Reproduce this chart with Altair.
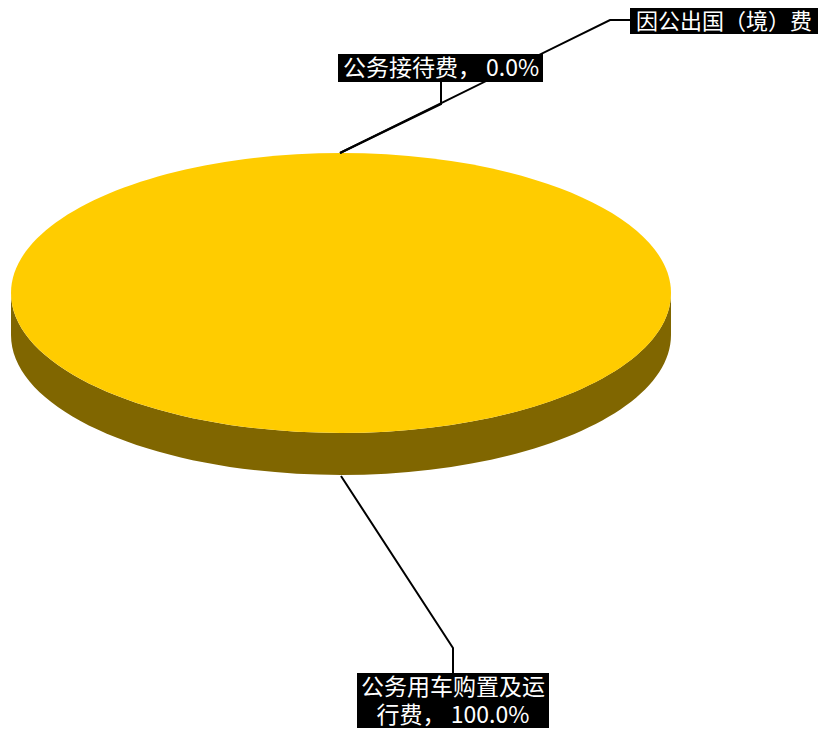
import altair as alt
import pandas as pd

# values
categories = ["因公出国（境）费", "公务接待费", "公务用车购置及运行费"]
shares = [None, 0.0, 100.0]
top_colour = "#FFCC00"
side_colour = "#806600"

label_lines = [
    categories[0],
    f"{categories[1]}， {shares[1]:.1f}%",
    categories[2][:8],
    f"{categories[2][8:]}， {shares[2]:.1f}%",
]

# layout, in reference-picture units
X_DOM = [8, 818]
Y_DOM = [8, 730]
W = X_DOM[1] - X_DOM[0]
H = Y_DOM[1] - Y_DOM[0]
xs = alt.Scale(domain=X_DOM, range=[0, W])
ys = alt.Scale(domain=Y_DOM, range=[0, H])
CX, CY, RX, RY, DEPTH = 341, 293, 330, 140, 42

leaders = pd.DataFrame([
    {"g": "a", "o": 0, "x": 340, "y": 153},
    {"g": "a", "o": 1, "x": 610, "y": 20},
    {"g": "a", "o": 2, "x": 631, "y": 20},
    {"g": "b", "o": 0, "x": 340, "y": 153},
    {"g": "b", "o": 1, "x": 441, "y": 104},
    {"g": "b", "o": 2, "x": 441, "y": 82},
    {"g": "c", "o": 0, "x": 341, "y": 476},
    {"g": "c", "o": 1, "x": 453, "y": 648},
    {"g": "c", "o": 2, "x": 453, "y": 673},
])
boxes = pd.DataFrame([
    {"x": 630, "x2": 818, "y": 7, "y2": 34},
    {"x": 338, "x2": 543, "y": 54, "y2": 82},
    {"x": 357, "x2": 549, "y": 673, "y2": 728},
])
labels = pd.DataFrame({
    "t": label_lines,
    "x": [724, 441, 453, 453],
    "y": [22, 69, 688, 716],
    "s": [22, 23, 23, 23],
})

X = lambda f="x": alt.X(f"{f}:Q", scale=xs, axis=None)
Y = lambda f="y": alt.Y(f"{f}:Q", scale=ys, axis=None)

pie_pos = pd.DataFrame({"x": [CX], "y": [CY]})
side_path = (f"M{-RX},0 A{RX},{RY} 0 0 0 {RX},0 L{RX},{DEPTH} "
             f"A{RX},{RY} 0 0 1 {-RX},{DEPTH} Z")
top_path = f"M{-RX},0 A{RX},{RY} 0 1 1 {RX},0 A{RX},{RY} 0 1 1 {-RX},0 Z"

side = alt.Chart(pie_pos).mark_point(shape=side_path, filled=True, opacity=1, size=4,
                                     color=side_colour, strokeWidth=0, clip=False).encode(x=X(), y=Y())
top = alt.Chart(pie_pos).mark_point(shape=top_path, filled=True, opacity=1, size=4,
                                    color=top_colour, strokeWidth=0, clip=False).encode(x=X(), y=Y())
lines = alt.Chart(leaders).mark_line(color="black", strokeWidth=2).encode(
    x=X(), y=Y(), detail="g:N", order="o:Q")
rects = alt.Chart(boxes).mark_rect(color="black", opacity=1).encode(
    x=X(), x2="x2:Q", y=Y(), y2="y2:Q")

texts = []
for s in [22, 23]:
    texts.append(
        alt.Chart(labels[labels.s == s]).mark_text(
            align="center", baseline="middle", color="white", fontSize=s, font="Noto Sans CJK SC"
        ).encode(x=X(), y=Y(), text="t:N")
    )

chart = alt.layer(side, top, lines, rects, *texts).properties(
    width=W, height=H, padding=0, background="white",
    autosize=alt.AutoSizeParams(type="none"),
).configure_view(strokeWidth=0)

chart.save("out.html", embed_options={"renderer": "svg", "actions": False})
